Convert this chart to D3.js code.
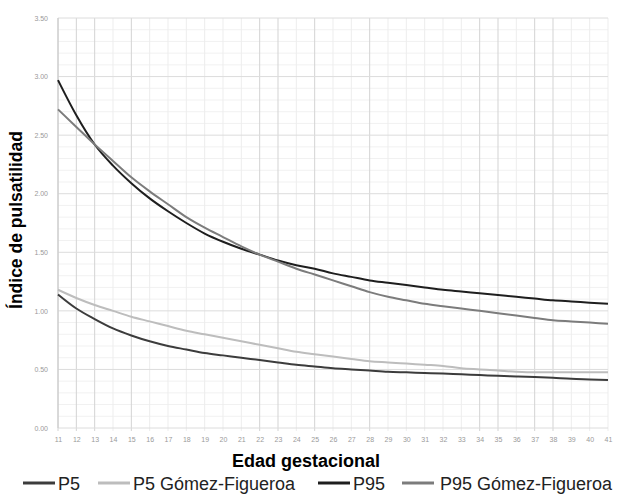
<!DOCTYPE html>
<html>
<head>
<meta charset="utf-8">
<script src="https://cdn.jsdelivr.net/npm/d3@7"></script>
<style>
  body { margin: 0; background: #fff; }
  text { font-family: "Liberation Sans", Arial, sans-serif; }
</style>
</head>
<body>
<div id="chart"></div>
<script>
var weeks = d3.range(11, 42);

var p5 = [1.14, 1.02, 0.93, 0.85, 0.79, 0.74, 0.70, 0.67, 0.64, 0.62, 0.60, 0.58, 0.56, 0.54, 0.525, 0.51,
  0.50, 0.49, 0.48, 0.475, 0.47, 0.465, 0.458, 0.452, 0.445, 0.44, 0.435, 0.428, 0.42, 0.415, 0.41];
var p5Gomez = [1.18, 1.11, 1.05, 1.00, 0.95, 0.91, 0.87, 0.83, 0.80, 0.77, 0.74, 0.71, 0.68, 0.65, 0.63, 0.61,
  0.59, 0.57, 0.56, 0.55, 0.54, 0.53, 0.51, 0.50, 0.49, 0.48, 0.475, 0.475, 0.475, 0.475, 0.475];
var p95 = [2.97, 2.67, 2.42, 2.24, 2.09, 1.96, 1.85, 1.75, 1.66, 1.59, 1.53, 1.48, 1.43, 1.39, 1.36, 1.32,
  1.29, 1.26, 1.24, 1.22, 1.20, 1.18, 1.165, 1.15, 1.135, 1.12, 1.105, 1.09, 1.08, 1.07, 1.06];
var p95Gomez = [2.72, 2.57, 2.42, 2.28, 2.14, 2.02, 1.91, 1.80, 1.71, 1.63, 1.55, 1.48, 1.42, 1.36, 1.31, 1.26,
  1.21, 1.16, 1.12, 1.09, 1.06, 1.04, 1.02, 1.00, 0.98, 0.96, 0.94, 0.92, 0.91, 0.90, 0.89];

var seriesNames = ["P5", "P5 Gómez-Figueroa", "P95", "P95 Gómez-Figueroa"];
var seriesValues = [p5, p5Gomez, p95, p95Gomez];
var yTicks = [0, 0.5, 1, 1.5, 2, 2.5, 3, 3.5];
// weeks whose vertical grid line is drawn darker in the original
var strongWeeks = [11, 12, 13, 15, 22, 23, 25, 28, 34, 35, 37, 38];

var colors = ["#3c3c3c", "#bdbdbd", "#1e1e1e", "#7c7c7c"];

var margin = { top: 18, right: 10, bottom: 67, left: 58 };
var width = 618 - margin.left - margin.right;
var height = 495 - margin.top - margin.bottom;

var svg = d3.select("#chart").append("svg")
    .attr("width", 618)
    .attr("height", 495);

var g = svg.append("g")
    .attr("transform", "translate(" + margin.left + "," + margin.top + ")");

var x = d3.scaleLinear().domain([11, 41]).range([0, 550]);
var y = d3.scaleLinear().domain([0, 3.5]).range([height, 0]);

// minor horizontal grid
g.append("g").selectAll("line")
    .data(d3.range(0, 3.51, 0.1).filter(function(v) { return Math.abs(v * 2 - Math.round(v * 2)) > 0.01; }))
    .enter().append("line")
    .attr("x1", 0).attr("x2", width)
    .attr("y1", function(d) { return y(d); })
    .attr("y2", function(d) { return y(d); })
    .style("stroke", "#f1f1f1")
    .style("stroke-width", 1);

// vertical grid
g.append("g").selectAll("line")
    .data(weeks)
    .enter().append("line")
    .attr("x1", function(d) { return x(d); })
    .attr("x2", function(d) { return x(d); })
    .attr("y1", 0).attr("y2", height + 3)
    .style("stroke", function(d) { return strongWeeks.indexOf(d) >= 0 ? "#d3d3d3" : "#ededed"; })
    .style("stroke-width", 1);

// major horizontal grid
g.append("g").selectAll("line")
    .data(yTicks)
    .enter().append("line")
    .attr("x1", 0).attr("x2", width)
    .attr("y1", function(d) { return y(d); })
    .attr("y2", function(d) { return y(d); })
    .style("stroke", "#dcdcdc")
    .style("stroke-width", 1);

g.append("line")
    .attr("x1", 0).attr("x2", 0)
    .attr("y1", 0).attr("y2", height)
    .style("stroke", "#c8c8c8");

var yAxis = d3.axisLeft(y).tickValues(yTicks).tickFormat(d3.format(".2f")).tickSize(0).tickPadding(10);
var xAxis = d3.axisBottom(x).tickValues(weeks).tickFormat(d3.format("d")).tickSize(0).tickPadding(9);

var yg = g.append("g").call(yAxis);
var xg = g.append("g").attr("transform", "translate(0," + height + ")").call(xAxis);
[yg, xg].forEach(function(a) {
  a.select(".domain").remove();
  a.selectAll("text").style("font-size", "7px").style("fill", "#9a9a9a");
});

var line = d3.line()
    .x(function(d) { return x(d.week); })
    .y(function(d) { return y(d.value); })
    .curve(d3.curveMonotoneX);

var series = seriesNames.map(function(name, i) {
  return {
    name: name,
    color: colors[i],
    values: weeks.map(function(w, j) { return { week: w, value: seriesValues[i][j] }; })
  };
});

g.selectAll(".series")
    .data(series)
    .enter().append("path")
    .attr("class", "series")
    .attr("d", function(d) { return line(d.values); })
    .style("fill", "none")
    .style("stroke", function(d) { return d.color; })
    .style("stroke-width", 2);

// axis titles
svg.append("text")
    .attr("x", 306)
    .attr("y", 467)
    .attr("text-anchor", "middle")
    .style("font-size", "18px")
    .style("font-weight", "bold")
    .text("Edad gestacional");

svg.append("text")
    .attr("transform", "translate(22,220) rotate(-90)")
    .attr("text-anchor", "middle")
    .style("font-size", "17.5px")
    .style("font-weight", "bold")
    .text("Índice de pulsatilidad");

// legend
var legendX = [23, 98, 318, 402];
var legend = svg.selectAll(".legend")
    .data(series)
    .enter().append("g")
    .attr("class", "legend")
    .attr("transform", function(d, i) { return "translate(" + legendX[i] + ",483)"; });

legend.append("line")
    .attr("x1", 0).attr("x2", 32)
    .attr("y1", 0).attr("y2", 0)
    .style("stroke", function(d) { return d.color; })
    .style("stroke-width", 3);

legend.append("text")
    .attr("x", function(d, i) { return i === 3 ? 38 : 35; })
    .attr("y", 6.5)
    .style("font-size", "18px")
    .style("fill", "#222")
    .text(function(d) { return d.name; });
</script>
</body>
</html>
